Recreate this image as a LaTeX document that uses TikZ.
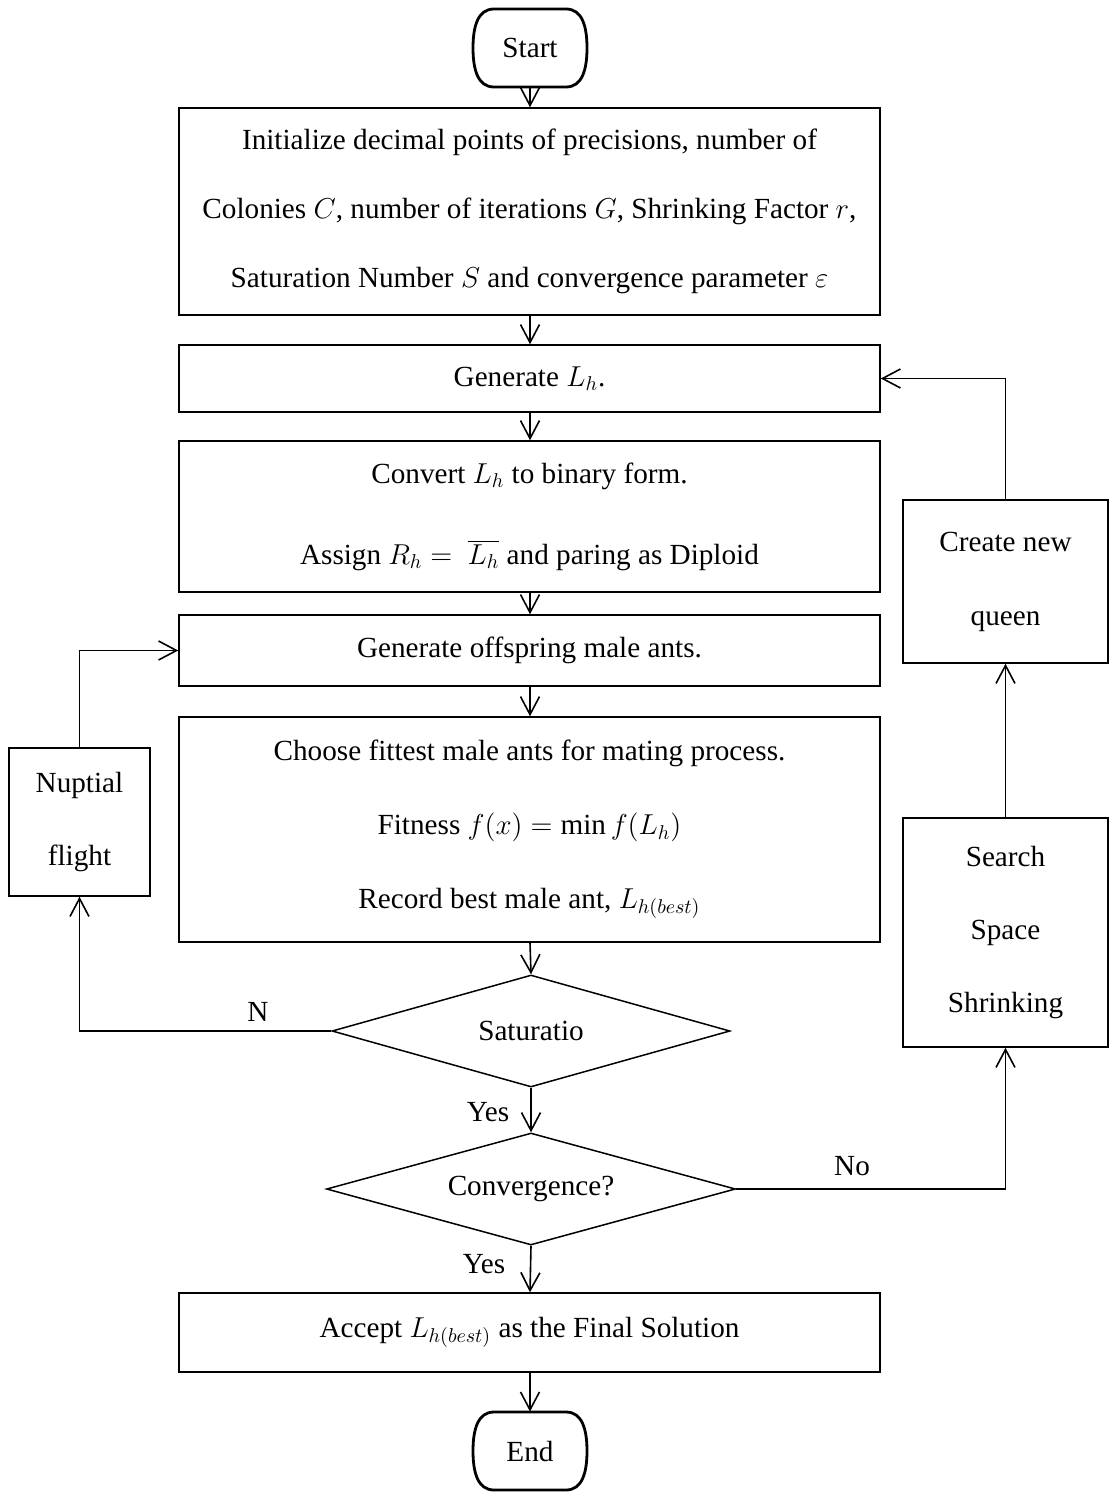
\documentclass[tikz,border=0pt]{standalone}
\usepackage{fontspec}
\setmainfont{Liberation Serif}
\usetikzlibrary{arrows.meta,shapes.geometric}

\begin{document}
\begin{tikzpicture}[x=0.5pt,y=-0.5pt,
  every node/.style={font=\fontsize{14.6}{15}\selectfont, inner sep=0pt},
  box/.style={draw, line width=0.75pt, align=center},
  mainbox/.style={box, minimum width=350.5pt},
  sidebox/.style={box, minimum width=102.5pt},
  decision/.style={draw, line width=0.75pt, shape=diamond, shape aspect=3.6},
  terminal/.style={minimum width=57.5pt, minimum height=39pt},
  termline/.style={line width=1.4pt, line join=round},
  arr/.style={line width=0.8pt, -{Straight Barb[length=9pt,width=9.5pt,line width=0.8pt]}},
  lbl/.style={font=\fontsize{14.6}{15}\selectfont}
]
\useasboundingbox (0,0) rectangle (1112,1492);

% terminals: flat top and bottom, bulging rounded sides
\node[terminal] (start) at (530,48) {Start};
\node[terminal] (end) at (530,1451) {End};
\foreach \t in {start,end}{
  \draw[termline, shift={(\t.center)}]
    (-36,-39) -- (36,-39) .. controls (52,-39) and (57,-22) .. (57,0)
    .. controls (57,22) and (52,39) .. (36,39) -- (-36,39)
    .. controls (-52,39) and (-57,22) .. (-57,0)
    .. controls (-57,-22) and (-52,-39) .. (-36,-39) -- cycle;
}

% main column
\node[mainbox, minimum height=103.5pt, font=\fontsize{14.6}{34.5}\selectfont] (init) at (529.5,211.5)
  {Initialize decimal points of precisions, number of\\
   Colonies $C$, number of iterations $G$, Shrinking Factor $r$,\\
   Saturation Number $S$ and convergence parameter $\varepsilon$};
\node[mainbox, minimum height=33.5pt] (genl) at (529.5,378.5) {Generate $L_h$.};
\node[mainbox, minimum height=75.5pt, font=\fontsize{14.6}{40.5}\selectfont] (conv2) at (529.5,516.5)
  {Convert $L_h$ to binary form.\\
   Assign $R_h =\ \overline{L_h}$ and paring as Diploid};
\node[mainbox, minimum height=35.5pt] (offs) at (529.5,650.5) {Generate offspring male ants.};
\node[mainbox, minimum height=112.5pt, font=\fontsize{14.6}{37}\selectfont] (choose) at (529.5,829.5)
  {Choose fittest male ants for mating process.\\
   Fitness $f(x) = \min f(L_h)$\\
   Record best male ant, $L_{h(best)}$};
\node[decision, minimum width=199pt, minimum height=56pt] (sat) at (531,1031) {Saturatio};
\node[decision, minimum width=204.5pt, minimum height=56pt] (conv) at (531,1189) {Convergence?};
\node[mainbox, minimum height=39.5pt] (accept) at (529.5,1332.5) {Accept $L_{h(best)}$ as the Final Solution};

% side boxes
\node[box, minimum width=70.5pt, minimum height=74pt, font=\fontsize{14.6}{36.5}\selectfont] (nup) at (79.5,822) {Nuptial\\flight};
\node[sidebox, minimum height=81.5pt, font=\fontsize{14.6}{37}\selectfont] (create) at (1005.5,581.5) {Create new\\queen};
\node[sidebox, minimum height=114.5pt, font=\fontsize{14.6}{36.5}\selectfont] (search) at (1005.5,932.5) {Search\\Space\\Shrinking};

% main flow
\draw[arr] (start.south) -- (start.south |- init.north);
\draw[arr] (start.south |- init.south) -- (start.south |- genl.north);
\draw[arr] (start.south |- genl.south) -- (start.south |- conv2.north);
\draw[arr] (start.south |- conv2.south) -- (start.south |- offs.north);
\draw[arr] (start.south |- offs.south) -- (start.south |- choose.north);
\draw[arr] (start.south |- choose.south) -- (sat.north);
\draw[arr] (sat.south) -- (conv.north);
\draw[arr] (conv.south) -- (start.south |- accept.north);
\draw[arr] (start.south |- accept.south) -- (end.north);

% loops
\draw[arr] (sat.west) -| (nup.south);
\draw[arr] (nup.north) |- (offs.west);
\draw[arr] (conv.east) -| (search.south);
\draw[arr] (search.north) -- (create.south);
\draw[arr] (create.north) |- (genl.east);

% branch labels
\node[lbl] (lN) at (258,1012) {N};
\node[lbl] (lY1) at (488,1112) {Yes};
\node[lbl] (lNo) at (852,1166) {No};
\node[lbl] (lY2) at (484,1264) {Yes};
\end{tikzpicture}
\end{document}
